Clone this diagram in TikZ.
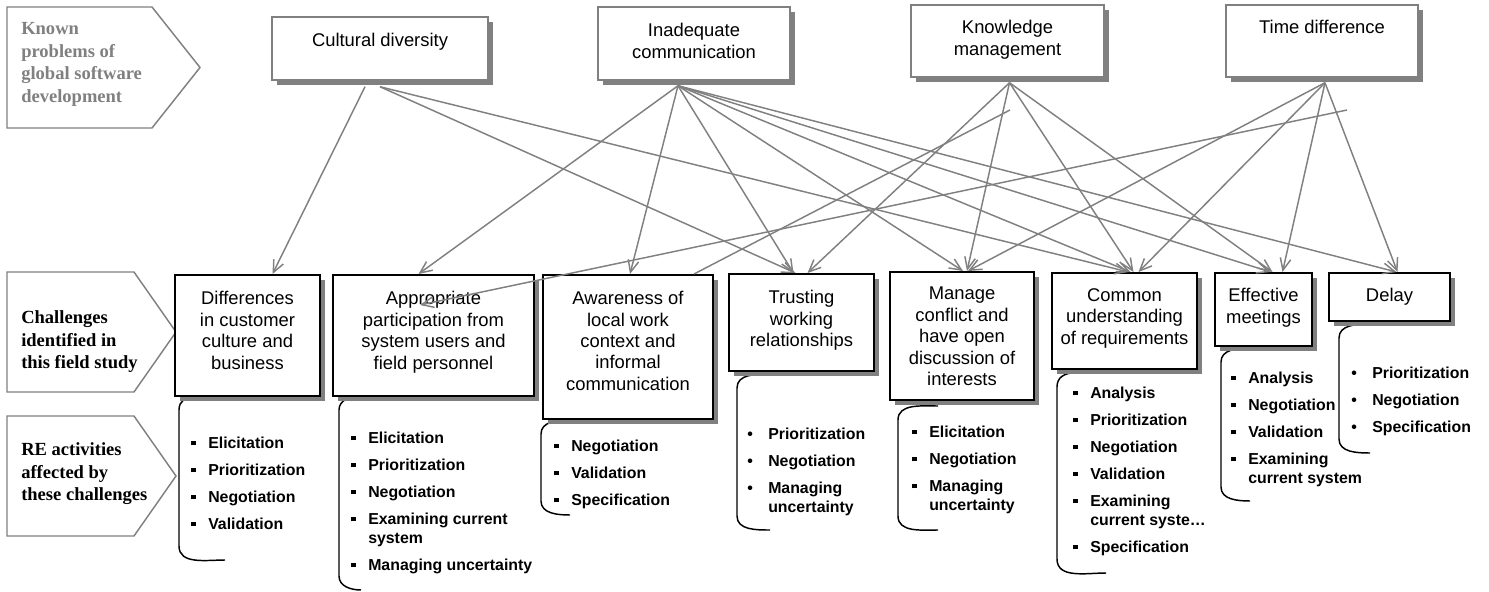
\documentclass[tikz,border=0pt]{standalone}
\usepackage{fontspec}
\setmainfont{Liberation Sans}
\newfontfamily\timesfont{Liberation Serif}
\usetikzlibrary{arrows.meta,calc,fit,shadows}

\newcommand\sqb{\makebox[12.75pt][l]{\rule[2.5pt]{3.4pt}{3.4pt}}}
\newcommand\rdb{\makebox[15.75pt][l]{\textbullet}}
\newcommand\sqgap{\hspace*{12.75pt}}
\newcommand\rdgap{\hspace*{15.75pt}}

\tikzset{
  probbox/.style={draw=black!50, line width=1.1pt, fill=white, inner sep=0pt,
    drop shadow={shadow xshift=3.75pt, shadow yshift=-3.75pt, opacity=1, fill=black!50}},
  chalbox/.style={draw=black, line width=1.5pt, fill=white, inner sep=0pt,
    drop shadow={shadow xshift=3.75pt, shadow yshift=-3.75pt, opacity=1, fill=black!50}},
  boxtext/.style={anchor=north, align=center, inner sep=0pt,
    font=\fontsize{13.8pt}{16.1pt}\selectfont},
  actlist/.style={anchor=north west, align=left, inner sep=0pt,
    font=\fontsize{11.9pt}{14.25pt}\selectfont\bfseries},
  rowlabel/.style={anchor=north west, align=left, inner sep=0pt,
    font=\timesfont\bfseries\fontsize{13.9pt}{16.9pt}\selectfont},
  rowshape/.style={draw=black!50, line width=1.1pt},
  brace/.style={draw=black, line width=1.1pt},
  arr/.style={draw=black!50, line width=1.1pt, -{Straight Barb[length=9pt,width=8pt]}}
}

\begin{document}
\begin{tikzpicture}[x=0.75pt,y=-0.75pt]
  \useasboundingbox (0,0) rectangle (1489,592);

  %%%%%%%%%%%%%%%%%%%%%%%%%%%%%%%%%%%%%%%%%%%%%%%%%%%%%%%%%%%%%%%%%%%%%%%%%%%
  %%%%  Row labels
  \draw[rowshape] (7,7) -- (152,7) -- (200,67.5) -- (152,128) -- (7,128) -- cycle;
  \draw[rowshape] (7,272) -- (134,272) -- (176,332) -- (134,392) -- (7,392) -- cycle;
  \draw[rowshape] (7,416) -- (134,416) -- (176,476) -- (134,536) -- (7,536) -- cycle;
  \node[rowlabel, text=black!50] (known) at (21,22.5) {Known\\problems of\\global software\\development};
  \node[rowlabel] (found) at (21,310.5) {Challenges\\identified in\\this field study};
  \node[rowlabel] (affect) at (21,442.5) {RE activities\\affected by\\these challenges};

  %%%%%%%%%%%%%%%%%%%%%%%%%%%%%%%%%%%%%%%%%%%%%%%%%%%%%%%%%%%%%%%%%%%%%%%%%%%
  %%%%  Braces under the challenges
  \foreach \bx/\ya/\yb/\bw in {179/396/560/46, 339/396/590/22, 541/420/515/29,
      737/374/530/33, 898/406/530/40, 1057/373/573/49, 1221/348/501/29, 1339/324/453/31}
   {\draw[brace] (\bx+\bw,\ya) to[out=180,in=90] (\bx,\ya+14)
      -- (\bx,\yb-14) to[out=-90,in=180] (\bx+\bw,\yb);}

  %%%%%%%%%%%%%%%%%%%%%%%%%%%%%%%%%%%%%%%%%%%%%%%%%%%%%%%%%%%%%%%%%%%%%%%%%%%
  %%%%  Known problems
  \node[probbox, fit={(272,17) (488,80)}] (cd) {};
  \node[probbox, fit={(598,7) (790,80)}] (ic) {};
  \node[probbox, fit={(911,5) (1104,77)}] (km) {};
  \node[probbox, fit={(1226,5) (1418,77)}] (td) {};
  \node[boxtext] (cd-t) at (380,32.5) {Cultural diversity};
  \node[boxtext] (ic-t) at (694,23) {Inadequate\\communication};
  \node[boxtext] (km-t) at (1007.5,20) {Knowledge\\management};
  \node[boxtext] (td-t) at (1322,20) {Time difference};

  %%%%%%%%%%%%%%%%%%%%%%%%%%%%%%%%%%%%%%%%%%%%%%%%%%%%%%%%%%%%%%%%%%%%%%%%%%%
  %%%%  Challenges
  \node[chalbox, fit={(175,275) (320,396)}] (diff) {};
  \node[chalbox, fit={(333,275) (534,396)}] (appr) {};
  \node[chalbox, fit={(543,275) (713,419)}] (aware) {};
  \node[chalbox, fit={(729,274) (874,371)}] (trust) {};
  \node[chalbox, fit={(890,272) (1034,400)}] (manage) {};
  \node[chalbox, fit={(1052,273) (1197,369)}] (common) {};
  \node[chalbox, fit={(1215,273) (1312,346)}] (eff) {};
  \node[chalbox, fit={(1329,273) (1450,321)}] (delay) {};
  \node[boxtext] (diff-t) at (247.5,291) {Differences\\in customer\\culture and\\business};
  \node[boxtext] (appr-t) at (433.5,291) {Appropriate\\participation from\\system users and\\field personnel};
  \node[boxtext] (aware-t) at (628,291) {Awareness of\\local work\\context and\\informal\\communication};
  \node[boxtext] (trust-t) at (801.5,290) {Trusting\\working\\relationships};
  \node[boxtext] (manage-t) at (962,287) {Manage\\conflict and\\have open\\discussion of\\interests};
  \node[boxtext] (common-t) at (1124.5,288) {Common\\understanding\\of requirements};
  \node[boxtext] (eff-t) at (1263.5,288) {Effective\\meetings};
  \node[boxtext] (delay-t) at (1389.5,288) {Delay};

  %%%%%%%%%%%%%%%%%%%%%%%%%%%%%%%%%%%%%%%%%%%%%%%%%%%%%%%%%%%%%%%%%%%%%%%%%%%
  %%%%  RE activities
  \node[actlist] (diff-l) at (191,437) {\sqb Elicitation\\[6pt]\sqb Prioritization\\[6pt]\sqb Negotiation\\[6pt]\sqb Validation};
  \node[actlist] (appr-l) at (351,432) {\sqb Elicitation\\[6pt]\sqb Prioritization\\[6pt]\sqb Negotiation\\[6pt]\sqb Examining current\\\sqgap system\\[6pt]\sqb Managing uncertainty};
  \node[actlist] (aware-l) at (554,440) {\sqb Negotiation\\[6pt]\sqb Validation\\[6pt]\sqb Specification};
  \node[actlist] (trust-l) at (747,428) {\rdb Prioritization\\[6pt]\rdb Negotiation\\[6pt]\rdb Managing\\\rdgap uncertainty};
  \node[actlist] (manage-l) at (912,426) {\sqb Elicitation\\[6pt]\sqb Negotiation\\[6pt]\sqb Managing\\\sqgap uncertainty};
  \node[actlist] (common-l) at (1073,387) {\sqb Analysis\\[6pt]\sqb Prioritization\\[6pt]\sqb Negotiation\\[6pt]\sqb Validation\\[6pt]\sqb Examining\\\sqgap current syste…\\[6pt]\sqb Specification};
  \node[actlist] (eff-l) at (1231,372) {\sqb Analysis\\[6pt]\sqb Negotiation\\[6pt]\sqb Validation\\[6pt]\sqb Examining\\\sqgap current system};
  \node[actlist] (delay-l) at (1351,367) {\rdb Prioritization\\[6pt]\rdb Negotiation\\[6pt]\rdb Specification};

  %%%%%%%%%%%%%%%%%%%%%%%%%%%%%%%%%%%%%%%%%%%%%%%%%%%%%%%%%%%%%%%%%%%%%%%%%%%
  %%%%  Cultural diversity
  \draw[arr] ($(cd.south)+(-15,6)$) -- ($(diff.north)+(25,0)$);
  \foreach \tgt/\dx in {trust/-6, common/4}
   {\draw[arr] ($(cd.south)+(0,6)$) -- ($(\tgt.north)+(\dx,0)$);}

  %%%%  Inadequate communication
  \foreach \tgt/\dx in {appr/-15, aware/2, trust/-8, manage/1, common/6, eff/7, delay/7}
   {\draw[arr] ($(ic.south)+(-16,5)$) -- ($(\tgt.north)+(\dx,0)$);}

  %%%%  Knowledge management
  \foreach \tgt/\dx in {trust/6, manage/5, common/9, eff/9}
   {\draw[arr] ($(km.south)+(2,5)$) -- ($(\tgt.north)+(\dx,0)$);}
  \coordinate (kmloose) at (1010,110);
  \draw[arr,-] (kmloose) -- ($(aware.north east)+(-20,0)$);

  %%%%  Time difference
  \foreach \tgt/\dx in {manage/6, common/14, eff/19, delay/8}
   {\draw[arr] ($(td.south)+(3,5)$) -- ($(\tgt.north)+(\dx,0)$);}
  \coordinate (tdloose) at (1347,110);
  \draw[arr] (tdloose) -- ($(appr.north)+(-13.5,31)$);
\end{tikzpicture}
\end{document}
